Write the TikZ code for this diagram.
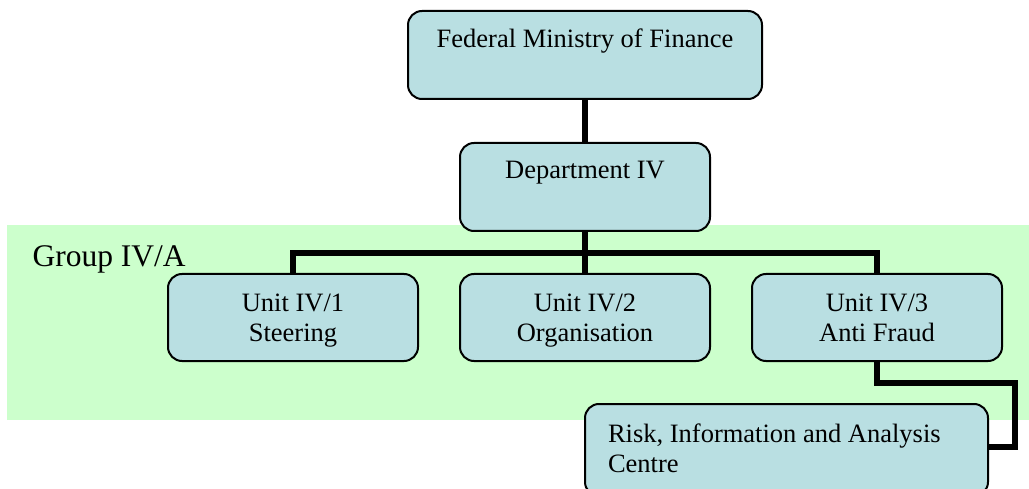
\documentclass[tikz,border=0pt]{standalone}
\usepackage{fontspec}
\setmainfont{Liberation Serif}
\definecolor{boxblue}{RGB}{185,223,226}
\definecolor{groupgreen}{RGB}{204,255,204}
\begin{document}
\begin{tikzpicture}[x = 1pt, y = -1pt,
                    unit/.style = {draw, fill = boxblue, rounded corners = 14pt,
                                   line width = 2pt, inner sep = 0pt, align = center,
                                   font = \fontsize{26.5}{30.5}\selectfont, anchor = north},
                    link/.style = {line width = 6pt}]
  \useasboundingbox (0, 0) rectangle (1029, 489);
  \clip (0, 0) rectangle (1029, 489);
  \fill [groupgreen] (7, 225) rectangle (1029, 420);
  \node [anchor = base west, font = \fontsize{31.5}{36}\selectfont] (grp) at (29, 267) {Group IV/A};

  \node [unit, minimum width = 354pt, text height = 37pt, text depth = 51pt] (bmf) at (585, 10) {Federal Ministry of Finance};
  \node [unit, minimum width = 250pt, text height = 36pt, text depth = 52pt] (dep) at (585, 142) {Department IV};

  \node [unit, minimum width = 250pt, text height = 67.5pt, text depth = 19.5pt] (u1) at (293, 273) {Unit IV/1\\Steering};
  \node [unit, minimum width = 250pt, text height = 67.5pt, text depth = 19.5pt] (u2) at (585, 273) {Unit IV/2\\Organisation};
  \node [unit, minimum width = 250pt, text height = 67.5pt, text depth = 19.5pt] (u3) at (877, 273) {Unit IV/3\\Anti Fraud};

  \node [unit, anchor = north west, align = flush left, inner xsep = 23pt, text width = 357pt,
         text height = 38pt, text depth = 54pt] (risk) at (584, 403) {Risk, Information and Analysis\\Centre};

  \draw [link] (bmf.south) -- (dep.north);
  \draw [link] (dep.south) -- (u2.north);
  \draw [link] (dep.south) -- ++(0, 21) -| (u1.north)
               (dep.south) -- ++(0, 21) -| (u3.north);
  \draw [link] (u3.south) -- ++(0, 21) -| ([xshift = 26pt, yshift = 3pt]risk.east) -- ([yshift = 3pt]risk.east);
\end{tikzpicture}
\end{document}
